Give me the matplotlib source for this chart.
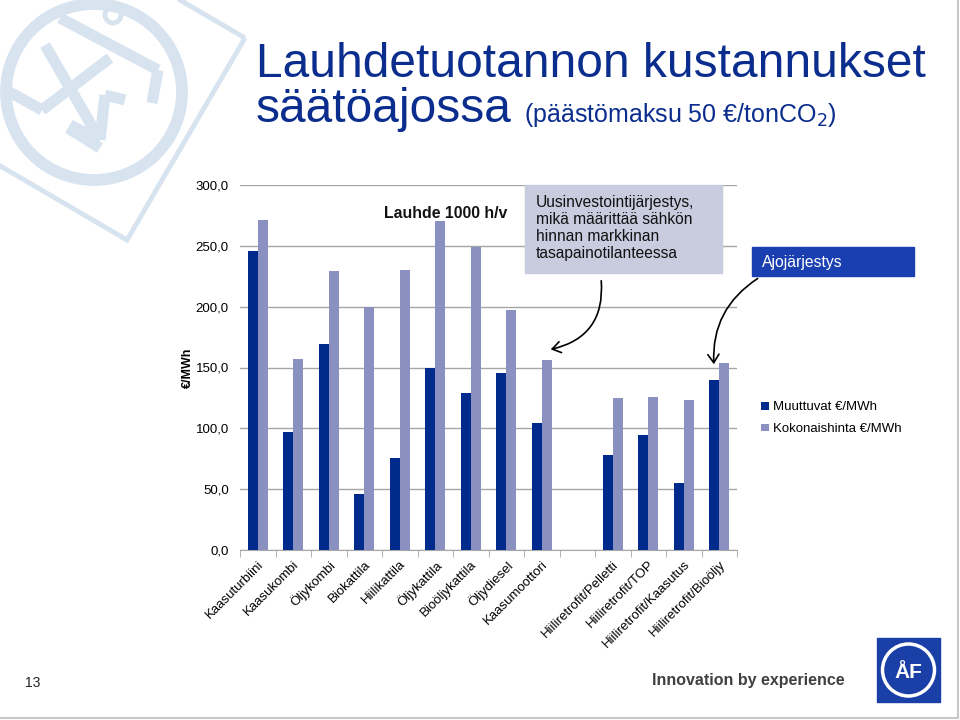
import matplotlib
matplotlib.use("Agg")
import matplotlib.pyplot as plt
import numpy as np
from matplotlib.patches import Circle, Rectangle, FancyArrowPatch, Polygon

plt.rcParams['font.family'] = ['Liberation Sans', 'DejaVu Sans']

categories = ["Kaasuturbiini", "Kaasukombi", "Öljykombi", "Biokattila", "Hiilikattila",
              "Öljykattila", "Bioöljykattila", "Öljydiesel", "Kaasumoottori", "",
              "Hiiliretrofit/Pelletti", "Hiiliretrofit/TOP", "Hiiliretrofit/Kaasutus",
              "Hiiliretrofit/Bioöljy"]
muuttuvat = [245.5, 97, 169, 46, 75.5, 150, 129, 145.5, 104.5, np.nan, 78, 94.5, 55, 140]
kokonais = [271, 157, 229.5, 200, 230, 270, 249, 197, 156, np.nan, 125, 126, 123.5, 154]
yticks = [0, 50, 100, 150, 200, 250, 300]
ytick_labels = ["0,0", "50,0", "100,0", "150,0", "200,0", "250,0", "300,0"]

DARK = "#002a8c"
LIGHT = "#8a91c1"
TITLE = "#0a2d8e"
WM = "#d8e3f0"

W, H = 960, 720
fig = plt.figure(figsize=(9.6, 7.2), dpi=100)

bg = fig.add_axes([0, 0, 1, 1], zorder=0)
bg.set_xlim(0, W)
bg.set_ylim(H, 0)
bg.axis("off")

# faint watermark logo top-left
bg.add_patch(Polygon([(245, 38), (127, 240), (-75, 122), (43, -80)], closed=True, fill=False, ec=WM, lw=3.5))
bg.add_patch(Circle((94, 92), 88, fill=False, lw=8.5, ec=WM))
bg.add_patch(Circle((113, 15), 8, fill=False, lw=3.5, ec=WM))
for (x0, y0, x1, y1) in [(60, 18, 158, 70), (158, 70, 152, 103), (45, 45, 100, 140), (6, 90, 42, 110),
                         (42, 110, 110, 58), (70, 125, 100, 140), (100, 140, 105, 95),
                         (105, 95, 125, 100), (68, 128, 100, 148)]:
    bg.plot([x0, x1], [y0, y1], color=WM, lw=8, solid_capstyle="butt")

# slide frame
bg.plot([958, 958], [0, 718], color="#c8c8c8", lw=1.5)
bg.plot([0, 958], [718, 718], color="#c8c8c8", lw=1.5)

# title
bg.text(256, 77, "Lauhdetuotannon kustannukset", fontsize=34.5, color=TITLE, va="baseline", ha="left")
bg.text(256, 122, "säätöajossa", fontsize=34.5, color=TITLE, va="baseline", ha="left")
bg.text(524, 122, "(päästömaksu 50 €/tonCO$_2$)", fontsize=18, color=TITLE, va="baseline", ha="left")

# footer
bg.text(33, 683, "13", fontsize=10, color="#222222", ha="center", va="center")
bg.text(845, 680, "Innovation by experience", fontsize=11.5, fontweight="bold", color="#404040",
        ha="right", va="center")
bg.add_patch(Rectangle((877, 638), 63, 64, color="#1a3fa6"))
bg.add_patch(Circle((908.5, 670), 26, fill=False, ec="white", lw=2.5))
bg.text(908.5, 673, "ÅF", fontsize=15, color="white", fontweight="bold", ha="center", va="center")

# main chart
ax = fig.add_axes([240 / W, 1 - 550 / H, 497 / W, 365 / H], zorder=1)
ax.patch.set_alpha(0)
x = np.arange(len(categories))
bw = 0.285
ax.bar(x - bw / 2, muuttuvat, bw, color=DARK, label="Muuttuvat €/MWh", zorder=3)
ax.bar(x + bw / 2, kokonais, bw, color=LIGHT, label="Kokonaishinta €/MWh", zorder=3)
ax.set_xlim(-0.5, len(categories) - 0.5)
ax.set_ylim(0, 300)
ax.set_yticks(yticks)
ax.set_yticklabels(ytick_labels, fontsize=9.5)
ax.yaxis.grid(True, color="#a6a6a6", lw=1, zorder=0)
ax.tick_params(axis="y", length=0, pad=8)
for s in ["top", "right", "left"]:
    ax.spines[s].set_visible(False)
ax.spines["bottom"].set_color("#a6a6a6")
ax.set_xticks(x)
ax.set_xticklabels(categories, rotation=45, ha="right", rotation_mode="anchor", fontsize=9.5)
ax.tick_params(axis="x", length=0, pad=6)
ax.set_xticks(np.arange(-0.5, len(categories), 1), minor=True)
ax.tick_params(axis="x", which="minor", length=5, color="#a6a6a6")
ax.set_ylabel("€/MWh", fontsize=9, fontweight="bold", labelpad=1)

leg = ax.legend(loc="upper left", bbox_to_anchor=(756 / W, 1 - 396 / H), bbox_transform=fig.transFigure,
                frameon=False, fontsize=9.5, handlelength=0.55, handleheight=0.55, handletextpad=0.35,
                labelspacing=0.75, borderaxespad=0)

# annotations
ov = fig.add_axes([0, 0, 1, 1], zorder=2)
ov.set_xlim(0, W)
ov.set_ylim(H, 0)
ov.axis("off")
ov.text(446, 214, "Lauhde 1000 h/v", fontsize=11.4, fontweight="bold", ha="center", va="center", color="#111111")
ov.add_patch(Rectangle((525, 185), 197, 88, color="#c9cbde"))
ov.text(536, 228, "Uusinvestointijärjestys,\nmikä määrittää sähkön\nhinnan markkinan\ntasapainotilanteessa",
        fontsize=11.2, ha="left", va="center", color="#111111", linespacing=1.18)
ov.add_patch(Rectangle((752, 247), 162, 29, color="#1a3fb0"))
ov.text(762, 262, "Ajojärjestys", fontsize=11.3, ha="left", va="center", color="white")

a1 = FancyArrowPatch((601, 278), (548, 350), connectionstyle="arc3,rad=-0.45",
                     arrowstyle="->,head_length=6,head_width=4", lw=1.2, color="black")
ov.add_patch(a1)
a2 = FancyArrowPatch((760, 277), (714, 367), connectionstyle="arc3,rad=0.3",
                     arrowstyle="->,head_length=6,head_width=4", lw=1.2, color="black")
ov.add_patch(a2)

fig.savefig("out.png", dpi=100)
